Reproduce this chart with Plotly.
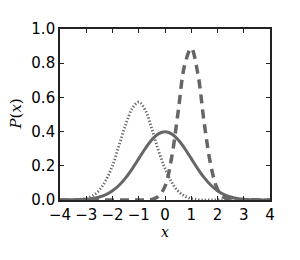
import plotly.graph_objects as go

x_vals = [-4.0, -3.75, -3.5, -3.25, -3.0, -2.75, -2.5, -2.25, -2.0, -1.75, -1.5, -1.25, -1.0,
          -0.75, -0.5, -0.25, 0.0, 0.25, 0.5, 0.75, 1.0, 1.25, 1.5, 1.75, 2.0, 2.25, 2.5,
          2.75, 3.0, 3.25, 3.5, 3.75, 4.0]

solid_p = [0.0001, 0.0004, 0.0009, 0.002, 0.0044, 0.0091, 0.0175, 0.0317, 0.054, 0.0863,
           0.1295, 0.1826, 0.242, 0.3011, 0.3521, 0.3867, 0.399, 0.3867, 0.3521, 0.3011,
           0.242, 0.1826, 0.1295, 0.0863, 0.054, 0.0317, 0.0175, 0.0091, 0.0044, 0.002,
           0.0009, 0.0004, 0.0001]

dotted_p = [0.0, 0.0, 0.001, 0.004, 0.01, 0.026, 0.058, 0.116, 0.2, 0.32, 0.44, 0.535, 0.573,
            0.525, 0.415, 0.29, 0.185, 0.105, 0.052, 0.022, 0.008, 0.002, 0.0, 0.0, 0.0,
            0.0, 0.0, 0.0, 0.0, 0.0, 0.0, 0.0, 0.0]

dashed_p = [0.0, 0.0, 0.0, 0.0, 0.0, 0.0, 0.0, 0.0, 0.0, 0.0, 0.0, 0.0, 0.0,
            0.0, 0.004, 0.022, 0.08, 0.245, 0.515, 0.79, 0.887, 0.74, 0.443, 0.2, 0.063,
            0.016, 0.003, 0.0, 0.0, 0.0, 0.0, 0.0, 0.0]

x_ticks = [-4, -3, -2, -1, 0, 1, 2, 3, 4]
y_ticks = [0.0, 0.2, 0.4, 0.6, 0.8, 1.0]
y_tick_text = ["0.0", "0.2", "0.4", "0.6", "0.8", "1.0"]

gray = "#666666"

fig = go.Figure()
fig.add_trace(go.Scatter(x=x_vals, y=solid_p, mode="lines", line_shape="spline",
                         line=dict(color=gray, width=3)))
fig.add_trace(go.Scatter(x=x_vals, y=dashed_p, mode="lines", line_shape="spline",
                         line=dict(color=gray, width=3.5, dash="9px,6px")))
fig.add_trace(go.Scatter(x=x_vals, y=dotted_p, mode="lines", line_shape="spline",
                         line=dict(color=gray, width=2.8, dash="1.3px,2px")))

axis_common = dict(showgrid=False, zeroline=False, showline=True, mirror="ticks",
                   linecolor="#222222", linewidth=1.6, ticks="inside", ticklen=4,
                   tickwidth=1, tickcolor="#222222",
                   tickfont=dict(family="DejaVu Sans", size=15, color="black"))

fig.update_xaxes(range=[-4, 4], tickvals=x_ticks, **axis_common)
fig.update_yaxes(range=[0, 1], tickvals=y_ticks, ticktext=y_tick_text, **axis_common)

fig.add_annotation(text="<i>x</i>", xref="paper", yref="paper", x=0.5, y=-0.185,
                   xanchor="center", yanchor="middle",
                   showarrow=False, font=dict(family="DejaVu Serif", size=14, color="black"))
fig.add_annotation(text="<i>P</i>(<i>x</i>)", xref="paper", yref="paper", x=-0.214, y=0.5,
                   xanchor="center", yanchor="middle",
                   textangle=-90, showarrow=False,
                   font=dict(family="DejaVu Serif", size=15, color="black"))

fig.update_layout(width=300, height=260, showlegend=False,
                  margin=dict(l=52, r=38, t=18, b=68),
                  plot_bgcolor="white", paper_bgcolor="white")

fig.write_html("out.html")
